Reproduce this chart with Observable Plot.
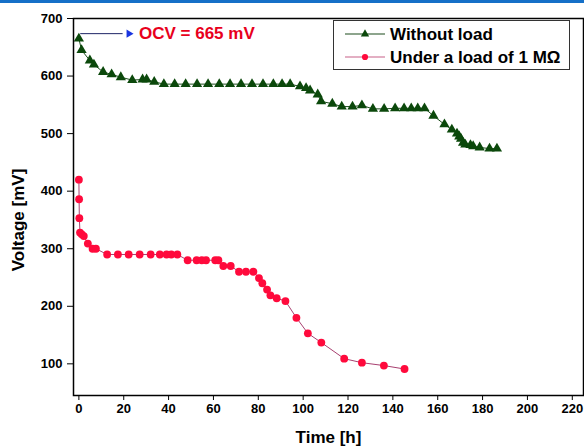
<!DOCTYPE html>
<html><head><meta charset="utf-8">
<script src="https://cdn.jsdelivr.net/npm/d3@7"></script>
<script src="https://cdn.jsdelivr.net/npm/@observablehq/plot@0.6"></script>
<style>
body{margin:0;background:#fff;}
#wrap{position:relative;width:584px;height:447px;font-family:"Liberation Sans",Arial,sans-serif;overflow:hidden;}
#topbar{position:absolute;left:0;top:0;width:584px;height:3px;background:#1570c8;}
#legend{position:absolute;left:333px;top:20px;}
</style></head><body>
<div id="wrap"><div id="chart"></div><div id="topbar"></div><div id="legend"></div></div>
<script>
// ---- data ----
const timeNoLoad = [0, 1.2, 4.9, 6.7, 10.8, 14.6, 18.7, 23.8, 28.4, 30.2, 33.6, 37.9, 42.7, 47.6, 52.7, 57.6, 62.6, 67.4, 72.3, 77.2, 82.1, 86.7, 90.6, 94.2, 98.6, 101.3, 103.1, 106.5, 108, 113, 117.2, 122, 126.2, 131.1, 136.1, 141, 145, 148.2, 151.1, 154.1, 158.1, 163, 166.3, 168.6, 169.6, 170.4, 171.3, 172.3, 174.6, 175.8, 178.7, 183.1, 186.4];
const voltNoLoad = [665, 645, 627, 620, 607, 603, 598, 593, 594, 594, 590, 586, 586, 586, 586, 586, 586, 586, 586, 586, 586, 586, 586, 586, 582, 579, 575, 568, 556, 552, 547, 547, 549, 543, 543, 544, 544, 544, 544, 544, 531, 516, 507, 500, 495, 491, 484, 481, 480, 478, 476, 474, 474];
const timeLoad = [0, 0.1, 0.2, 0.5, 1.3, 2.2, 4, 6.1, 7.6, 12.6, 17.4, 22.2, 27.1, 32, 36.1, 39.1, 41.2, 43.9, 48.5, 52.5, 54.8, 56.7, 60.8, 62.2, 64.4, 67.7, 71.4, 74.5, 77.8, 80.3, 81.8, 83.9, 85.4, 88.2, 92.1, 97, 102.1, 108.1, 118.3, 126.2, 136, 145.2];
const voltLoad = [420, 386, 353, 328, 325, 322, 309, 300, 300, 290, 290, 290, 290, 290, 290, 290, 290, 290, 280, 280, 280, 280, 280, 280, 270, 270, 260, 260, 260, 249, 240, 229, 219, 214, 209, 180, 153, 137, 109, 102, 97, 91];
const xTicks = [0, 20, 40, 60, 80, 100, 120, 140, 160, 180, 200, 220];
const yTicks = [100, 200, 300, 400, 500, 600, 700];
const seriesNames = ["Without load", "Under a load of 1 MΩ"];
const xLabel = "Time [h]";
const yLabel = "Voltage [mV]";
const ocvText = "OCV = 665 mV";
const ocvValue = 665;
const arrowFrom = 0.6, arrowTo = 19.5, arrowHead = 22.3, ocvTextAt = 26.8;

const green = "#0b480b", greenLine = "#1d4d1d";
const red = "#ff0a3c", redLine = "#a84070";
const font = "Liberation Sans, Arial, sans-serif";

const noLoad = timeNoLoad.map((t, i) => ({t, v: voltNoLoad[i]}));
const load = timeLoad.map((t, i) => ({t, v: voltLoad[i]}));

const plot = Plot.plot({
  width: 584, height: 447,
  marginLeft: 73, marginRight: 1, marginTop: 18, marginBottom: 52,
  style: {fontFamily: font, fontSize: "13px", fontWeight: "bold", color: "#000", background: "#fff", overflow: "visible"},
  x: {domain: [-2.4, 225], ticks: xTicks, tickSize: 5, tickPadding: 3, label: null},
  y: {domain: [45, 700], ticks: yTicks, tickSize: 6, tickPadding: 5, label: null},
  marks: [
    Plot.line(load, {x: "t", y: "v", stroke: redLine, strokeWidth: 1}),
    Plot.dot(load, {x: "t", y: "v", r: 3.9, fill: red, stroke: "none"}),
    Plot.line(noLoad, {x: "t", y: "v", stroke: greenLine, strokeWidth: 1}),
    Plot.dot(noLoad, {x: "t", y: "v", symbol: "triangle", r: 3.8, fill: green, stroke: "none"}),
    Plot.link([ocvValue], {x1: arrowFrom, x2: arrowTo, y1: d => d, y2: d => d, dy: -5, stroke: "#1c2466", strokeWidth: 1}),
    Plot.dot([ocvValue], {x: arrowHead, y: d => d, dy: -5, symbol: "triangle", rotate: 90, r: 3, fill: "#1a35e0", stroke: "none"}),
    Plot.text([ocvText], {x: ocvTextAt, y: ocvValue, dy: -5, text: d => d, textAnchor: "start", fill: "#e8001c", fontSize: 17, fontWeight: "bold"}),
    Plot.text([xLabel], {frameAnchor: "bottom", lineAnchor: "middle", textAnchor: "middle", dy: 42, text: d => d, fontSize: 17, fontWeight: "bold"}),
    Plot.text([yLabel], {frameAnchor: "left", lineAnchor: "middle", textAnchor: "middle", dx: -55, dy: 13, rotate: -90, text: d => d, fontSize: 17, fontWeight: "bold"}),
    Plot.frame({stroke: "#000", strokeWidth: 1.5})
  ]
});
document.getElementById("chart").appendChild(plot);

// ---- legend ----
const lg = d3.select("#legend").append("svg").attr("width", 238).attr("height", 51)
  .style("font-family", font).style("font-weight", "bold").style("font-size", "17px");
lg.append("rect").attr("x", 0.5).attr("y", 0.5).attr("width", 236).attr("height", 49)
  .attr("fill", "#fff").attr("stroke", "#333").attr("stroke-width", 1);
const rows = [
  {name: seriesNames[0], y: 14, line: greenLine, fill: green, sym: d3.symbolTriangle},
  {name: seriesNames[1], y: 37, line: "#c86088", fill: red, sym: d3.symbolCircle}
];
rows.forEach(r => {
  lg.append("line").attr("x1", 12).attr("x2", 52).attr("y1", r.y).attr("y2", r.y)
    .attr("stroke", r.line).attr("stroke-width", 1.2);
  lg.append("path").attr("d", d3.symbol(r.sym, 30)()).attr("transform", `translate(32,${r.y})`).attr("fill", r.fill);
  lg.append("text").attr("x", 57).attr("y", r.y).attr("dy", "0.36em").attr("fill", "#000").text(r.name);
});
</script>
</body></html>
